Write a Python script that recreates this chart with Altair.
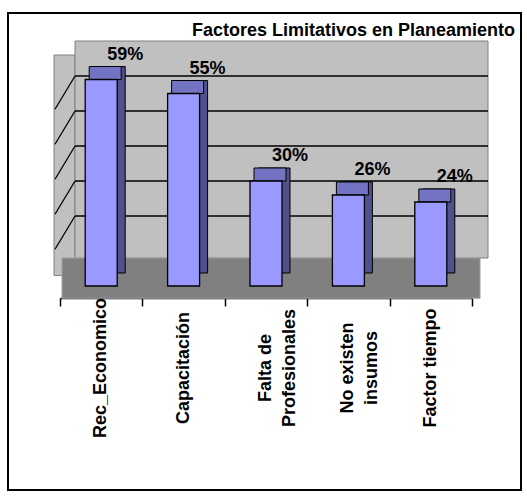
import altair as alt
import pandas as pd

categories = ["Rec_Economico", "Capacitación", "Falta de\nProfesionales", "No existen\ninsumos", "Factor tiempo"]
values = [0.59, 0.55, 0.30, 0.26, 0.24]
grid_values = [0.2, 0.3, 0.4, 0.5, 0.6]
title_text = "Factores Limitativos en Planeamiento"

df = pd.DataFrame({"cat": categories, "val": values})
grid_df = pd.DataFrame({"g": grid_values})
title_df = pd.DataFrame({"t": [title_text]})
one = pd.DataFrame({"k": [0]})

FONT = "Liberation Sans"
xscale = alt.Scale(domain=categories, range=[52, 464], paddingInner=0, paddingOuter=0)
yscale = alt.Scale(domain=[0, 0.7], range=[273, 28], nice=False, zero=False)

x_axis = alt.Axis(labels=False, title=None, grid=False, domain=True, domainColor="black",
                  domainWidth=1.5, ticks=True, tickColor="black", tickWidth=1.5, tickSize=8,
                  tickBand="extent", offset=-192)
X = alt.X("cat:N", scale=xscale, sort=categories, axis=x_axis)
Y = alt.Y("val:Q", scale=yscale, axis=None)

base = alt.Chart(df)

side_wall = alt.Chart(one).mark_rect(fill="#C0C0C0", stroke="#808080", strokeWidth=1).encode(
    x=alt.value(46), x2=alt.value(67),
    y=alt.Y(datum=0.03, scale=yscale, axis=None), y2=alt.datum(0.66))

back_wall = alt.Chart(one).mark_rect(fill="#C0C0C0", stroke="#808080", strokeWidth=1).encode(
    x=alt.value(67), x2=alt.value(480),
    y=alt.Y(datum=0.08, scale=yscale, axis=None), y2=alt.datum(0.70))

floor = alt.Chart(one).mark_rect(fill="#808080", stroke="#A0A0A0", strokeWidth=1).encode(
    x=alt.value(54), x2=alt.value(472),
    y=alt.Y(datum=-0.035, scale=yscale, axis=None), y2=alt.datum(0.08))

grid = alt.Chart(grid_df).mark_rule(color="black", strokeWidth=1.3).encode(
    x=alt.value(67), x2=alt.value(480),
    y=alt.Y("g:Q", scale=yscale, axis=None))

side_grid = alt.Chart(grid_df).transform_calculate(g2="datum.g - 0.095").mark_rule(
    color="black", strokeWidth=1.3).encode(
    x=alt.value(67), x2=alt.value(47),
    y=alt.Y("g:Q", scale=yscale, axis=None), y2="g2:Q")

bar_side = base.mark_bar(size=32, xOffset=8, yOffset=-13, y2Offset=-13,
                         fill="#50508C", stroke="black", strokeWidth=1).encode(
    x=X, y=Y, y2=alt.datum(0))

bar_top = base.mark_bar(size=32, xOffset=4, yOffset=-13, y2Offset=0,
                        fill="#7373C4", stroke="black", strokeWidth=1).encode(
    x=X, y=Y, y2="val:Q")

bar_front = base.mark_bar(size=32, fill="#9999FF", stroke="black", strokeWidth=1.3).encode(
    x=X, y=Y, y2=alt.datum(0))

value_labels = base.mark_text(font=FONT, fontSize=18, fontWeight="bold", color="black",
                              dx=24, dy=-25, align="center", baseline="middle").encode(
    x=X, y=Y, text=alt.Text("val:Q", format=".0%"))

cat_labels = base.mark_text(font=FONT, fontSize=18, fontWeight="bold", color="black",
                            angle=270, align="center", baseline="middle",
                            lineBreak="\n", lineHeight=24).encode(
    x=X, y=alt.value(355), text="cat:N")

title = alt.Chart(title_df).mark_text(font=FONT, fontSize=18, fontWeight="bold", color="black",
                                      align="left", baseline="middle").encode(
    x=alt.value(184), y=alt.value(18), text="t:N")

chart = alt.layer(
    side_wall, back_wall, floor, grid, side_grid,
    bar_side, bar_top, bar_front, value_labels, cat_labels, title
).properties(
    width=513, height=477,
    autosize=alt.AutoSizeParams(type="none"),
    padding={"left": 8, "top": 13, "right": 6, "bottom": 7},
    background="white"
).configure_view(stroke="black", strokeWidth=2)

chart.save("out.html", embed_options={"renderer": "svg", "actions": False})
